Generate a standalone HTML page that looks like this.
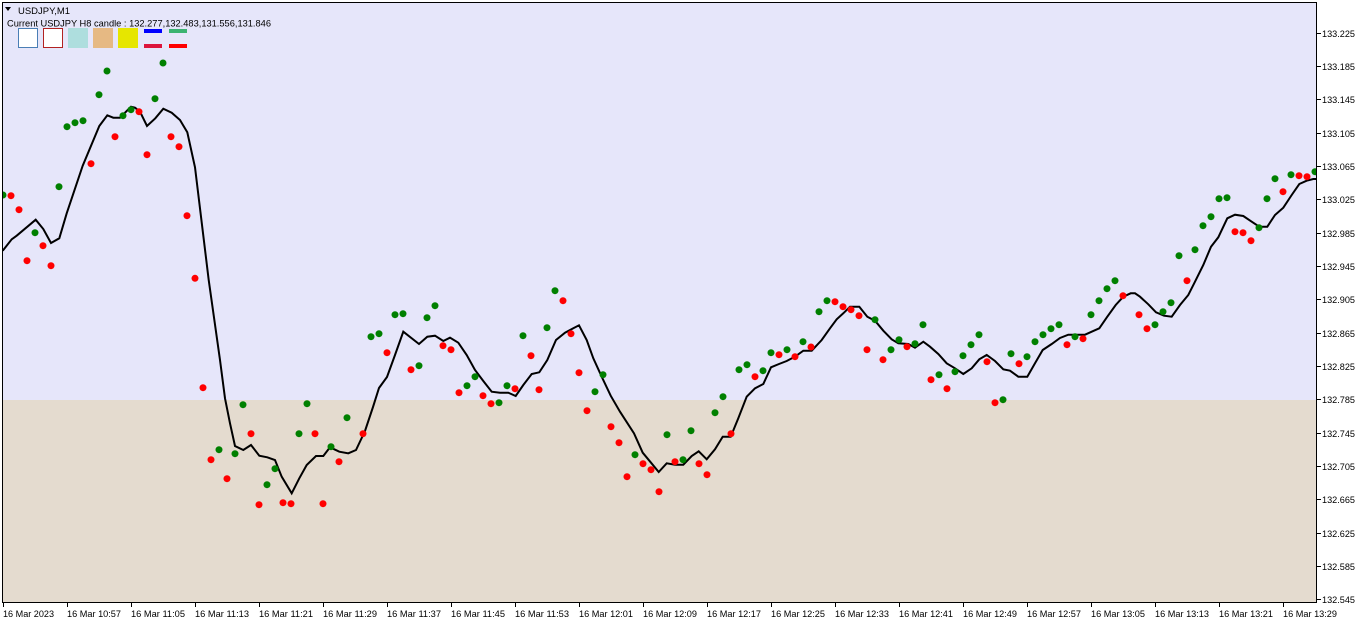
<!DOCTYPE html>
<html><head><meta charset="utf-8"><style>
html,body{margin:0;padding:0;background:#fff;}
svg{display:block;}
text{font-family:"Liberation Sans",sans-serif;fill:#000;}
</style></head><body>
<svg width="1362" height="624" viewBox="0 0 1362 624" xmlns="http://www.w3.org/2000/svg">
<rect x="0" y="0" width="1362" height="624" fill="#fff"/>
<defs><clipPath id="pc"><rect x="3" y="3" width="1313" height="599"/></clipPath></defs>
<rect x="2" y="2" width="1314" height="398" fill="#e6e6fa"/>
<rect x="2" y="400" width="1314" height="203" fill="#e4dbcf"/>
<g clip-path="url(#pc)">
<polyline fill="none" stroke="#000" stroke-width="2" stroke-linejoin="miter" points="2.7,250.7 11.7,239.3 16.7,235.7 35.7,219.7 43.3,229 51,243 59.3,238.3 66.7,213.3 82.7,165.7 99.3,126 107.3,115.3 113.3,117.7 120,117.7 131,106.7 135,107.7 140,111.7 147,126 155.3,118.3 163.3,108.7 171.7,112.7 180,120 187.3,132.3 195,167.3 208.7,280 220,360 225,398.3 230,423.3 235,446 243.3,450 251,445 259.3,455.7 267.3,457.3 275,460 281.7,476.7 291.7,493.3 299.3,478.3 306.7,465 316,456 323.3,456 330,447.3 339.3,451.7 348.3,453.3 356,450 365,431 373,407 379,388 387,377 395,355 403.3,331.7 419,344 427.3,336.7 435,335.7 443.3,341 450,337.7 458.3,342.7 466.7,355 475,370 483.3,381 491.7,391.7 500,392.7 508.3,392.7 515.7,396 523.3,385 531.7,374 539.3,372.3 547.3,360 556,340 565,332.7 573.3,328.3 579,325.3 586.7,340 593.3,358.3 601.7,376.7 610.7,395.7 620,411.7 634,433.3 642.7,452.7 650.7,462.3 658.7,472 666.7,463.3 675,464.7 683.3,464.7 691.7,456 698.7,451.3 706.7,459.3 715,449.3 722.7,436.7 730.7,436.7 738.3,418.3 746.7,396.7 755,388.3 763.3,384 771,367.3 779,364 786.7,361 795,356.7 803.3,350.7 811.7,350.7 821.7,340 830,328.3 836.7,319.3 843.3,313.3 850,306.7 859.3,306.7 867.3,316.7 875,320.7 883.3,330.7 891.7,339.3 898.3,343.3 908.3,344 915,347.7 923.3,341.7 930,346.7 938.3,354 946.7,363.3 955,368.3 963.3,374 971.7,368.3 979.3,359.3 986.7,355 995,361 1003.3,369.3 1010,370.7 1018.3,376.7 1027.3,376.7 1035,363.3 1042.7,350 1051.7,344 1060,338 1068.3,334.7 1085,334.7 1091.7,331.7 1099.3,328.3 1107.3,316.7 1115.7,305 1123.3,296.7 1130.7,293.3 1135,293.3 1140,296.7 1148.3,304.3 1156,312.3 1164,315.7 1171.7,316.7 1180,305 1188.3,295 1195,281.7 1203.3,265 1211,246.7 1218.3,237.3 1227.3,218.3 1235,214.7 1243.3,216 1251.7,221.7 1259.3,226.7 1267.3,226.7 1275,215 1283.3,207.7 1291.7,195 1299.3,184 1306.7,180.7 1313.3,179 1316,179"/>
<g fill="#008000">
<circle cx="3" cy="195" r="3.5"/><circle cx="35" cy="232.7" r="3.5"/><circle cx="59" cy="186.7" r="3.5"/><circle cx="67" cy="126.7" r="3.5"/><circle cx="75" cy="122.7" r="3.5"/><circle cx="83" cy="120.7" r="3.5"/><circle cx="99" cy="94.7" r="3.5"/><circle cx="107" cy="71" r="3.5"/><circle cx="123" cy="115.7" r="3.5"/><circle cx="131" cy="109.7" r="3.5"/><circle cx="155" cy="98.7" r="3.5"/><circle cx="163" cy="63" r="3.5"/>
<circle cx="219" cy="449.7" r="3.5"/><circle cx="235" cy="453.7" r="3.5"/><circle cx="243" cy="404.7" r="3.5"/><circle cx="267" cy="484.7" r="3.5"/><circle cx="275" cy="468.7" r="3.5"/><circle cx="299" cy="433.7" r="3.5"/><circle cx="307" cy="403.7" r="3.5"/><circle cx="331" cy="446.7" r="3.5"/><circle cx="347" cy="417.7" r="3.5"/>
<circle cx="371" cy="336.7" r="3.5"/><circle cx="379" cy="333.7" r="3.5"/><circle cx="395" cy="314.7" r="3.5"/><circle cx="403" cy="313.7" r="3.5"/><circle cx="419" cy="365.7" r="3.5"/><circle cx="427" cy="317.7" r="3.5"/><circle cx="435" cy="305.7" r="3.5"/><circle cx="467" cy="385.7" r="3.5"/><circle cx="475" cy="376.7" r="3.5"/><circle cx="499" cy="402.7" r="3.5"/><circle cx="507" cy="385.7" r="3.5"/><circle cx="523" cy="335.7" r="3.5"/><circle cx="547" cy="327.7" r="3.5"/><circle cx="555" cy="290.7" r="3.5"/>
<circle cx="595" cy="391.7" r="3.5"/><circle cx="603" cy="374.7" r="3.5"/><circle cx="635" cy="454.7" r="3.5"/><circle cx="667" cy="434.7" r="3.5"/><circle cx="683" cy="459.7" r="3.5"/><circle cx="691" cy="430.7" r="3.5"/><circle cx="715" cy="412.7" r="3.5"/><circle cx="723" cy="396.7" r="3.5"/><circle cx="739" cy="369.7" r="3.5"/><circle cx="747" cy="364.7" r="3.5"/><circle cx="763" cy="370.7" r="3.5"/><circle cx="771" cy="352.7" r="3.5"/><circle cx="787" cy="349.7" r="3.5"/>
<circle cx="803" cy="341.7" r="3.5"/><circle cx="819" cy="311.7" r="3.5"/><circle cx="827" cy="300.7" r="3.5"/><circle cx="875" cy="319.7" r="3.5"/><circle cx="891" cy="349.7" r="3.5"/><circle cx="899" cy="339.7" r="3.5"/><circle cx="915" cy="343.7" r="3.5"/><circle cx="923" cy="324.7" r="3.5"/><circle cx="939" cy="374.7" r="3.5"/><circle cx="955" cy="371.7" r="3.5"/><circle cx="963" cy="355.7" r="3.5"/><circle cx="971" cy="344.7" r="3.5"/><circle cx="979" cy="334.7" r="3.5"/><circle cx="1003" cy="399.7" r="3.5"/><circle cx="1011" cy="353.7" r="3.5"/><circle cx="1027" cy="356.7" r="3.5"/>
<circle cx="1035" cy="341.7" r="3.5"/><circle cx="1043" cy="334.7" r="3.5"/><circle cx="1051" cy="328.7" r="3.5"/><circle cx="1059" cy="324.7" r="3.5"/><circle cx="1075" cy="336.7" r="3.5"/><circle cx="1091" cy="314.7" r="3.5"/><circle cx="1099" cy="300.7" r="3.5"/><circle cx="1107" cy="288.7" r="3.5"/><circle cx="1115" cy="280.7" r="3.5"/><circle cx="1155" cy="324.7" r="3.5"/><circle cx="1163" cy="311.7" r="3.5"/><circle cx="1171" cy="302.7" r="3.5"/><circle cx="1179" cy="255.7" r="3.5"/><circle cx="1195" cy="249.7" r="3.5"/><circle cx="1203" cy="225.7" r="3.5"/><circle cx="1211" cy="216.7" r="3.5"/><circle cx="1219" cy="198.7" r="3.5"/><circle cx="1227" cy="197.7" r="3.5"/><circle cx="1259" cy="227.7" r="3.5"/><circle cx="1267" cy="198.7" r="3.5"/><circle cx="1275" cy="178.7" r="3.5"/><circle cx="1291" cy="174.7" r="3.5"/><circle cx="1315" cy="171.7" r="3.5"/>
</g>
<g fill="#ff0000">
<circle cx="11" cy="195.7" r="3.5"/><circle cx="19" cy="209.7" r="3.5"/><circle cx="27" cy="260.7" r="3.5"/><circle cx="43" cy="245.7" r="3.5"/><circle cx="51" cy="265.7" r="3.5"/><circle cx="91" cy="163.7" r="3.5"/><circle cx="115" cy="136.7" r="3.5"/><circle cx="139" cy="111.7" r="3.5"/><circle cx="147" cy="154.7" r="3.5"/><circle cx="171" cy="136.7" r="3.5"/><circle cx="179" cy="146.7" r="3.5"/><circle cx="187" cy="215.7" r="3.5"/><circle cx="195" cy="278.3" r="3.5"/><circle cx="203" cy="387.7" r="3.5"/>
<circle cx="211" cy="459.7" r="3.5"/><circle cx="227" cy="478.7" r="3.5"/><circle cx="251" cy="433.7" r="3.5"/><circle cx="259" cy="504.7" r="3.5"/><circle cx="283" cy="502.7" r="3.5"/><circle cx="291" cy="503.7" r="3.5"/><circle cx="315" cy="433.7" r="3.5"/><circle cx="323" cy="503.7" r="3.5"/><circle cx="339" cy="461.7" r="3.5"/><circle cx="363" cy="433.7" r="3.5"/>
<circle cx="387" cy="352.7" r="3.5"/><circle cx="411" cy="369.7" r="3.5"/><circle cx="443" cy="345.7" r="3.5"/><circle cx="451" cy="349.7" r="3.5"/><circle cx="459" cy="392.7" r="3.5"/><circle cx="483" cy="395.7" r="3.5"/><circle cx="491" cy="403.7" r="3.5"/><circle cx="515" cy="388.7" r="3.5"/><circle cx="531" cy="355.7" r="3.5"/><circle cx="539" cy="389.7" r="3.5"/><circle cx="563" cy="300.7" r="3.5"/><circle cx="571" cy="333.7" r="3.5"/><circle cx="579" cy="372.7" r="3.5"/>
<circle cx="587" cy="410.7" r="3.5"/><circle cx="611" cy="426.7" r="3.5"/><circle cx="619" cy="442.7" r="3.5"/><circle cx="627" cy="476.7" r="3.5"/><circle cx="643" cy="463.7" r="3.5"/><circle cx="651" cy="469.7" r="3.5"/><circle cx="659" cy="491.7" r="3.5"/><circle cx="675" cy="461.7" r="3.5"/><circle cx="699" cy="463.7" r="3.5"/><circle cx="707" cy="474.7" r="3.5"/><circle cx="731" cy="433.7" r="3.5"/><circle cx="755" cy="376.7" r="3.5"/><circle cx="779" cy="354.7" r="3.5"/><circle cx="795" cy="356.7" r="3.5"/>
<circle cx="811" cy="347" r="3.5"/><circle cx="835" cy="301.7" r="3.5"/><circle cx="843" cy="306.7" r="3.5"/><circle cx="851" cy="309.7" r="3.5"/><circle cx="859" cy="315.7" r="3.5"/><circle cx="867" cy="349.7" r="3.5"/><circle cx="883" cy="359.7" r="3.5"/><circle cx="907" cy="346.7" r="3.5"/><circle cx="931" cy="379.7" r="3.5"/><circle cx="947" cy="388.7" r="3.5"/><circle cx="987" cy="361.7" r="3.5"/><circle cx="995" cy="402.7" r="3.5"/><circle cx="1019" cy="363.7" r="3.5"/>
<circle cx="1067" cy="344.7" r="3.5"/><circle cx="1083" cy="338.7" r="3.5"/><circle cx="1123" cy="295.7" r="3.5"/><circle cx="1139" cy="314.7" r="3.5"/><circle cx="1147" cy="328.7" r="3.5"/><circle cx="1187" cy="280.7" r="3.5"/><circle cx="1235" cy="231.7" r="3.5"/><circle cx="1243" cy="232.7" r="3.5"/><circle cx="1251" cy="240.7" r="3.5"/><circle cx="1283" cy="191.7" r="3.5"/><circle cx="1299" cy="175.7" r="3.5"/><circle cx="1307" cy="176.7" r="3.5"/>
</g>
</g>
<rect x="2.5" y="2.5" width="1314" height="600" fill="none" stroke="#000" stroke-width="1"/>
<!-- legend -->
<polygon points="5,7 11,7 8,11" fill="#000"/>
<text x="18" y="14" font-size="9.5" textLength="52" lengthAdjust="spacingAndGlyphs">USDJPY,M1</text>
<text x="7" y="26.5" font-size="9.5" textLength="264" lengthAdjust="spacingAndGlyphs">Current USDJPY H8 candle : 132.277,132.483,131.556,131.846</text>
<rect x="18.5" y="28.5" width="19" height="19" fill="#fff" stroke="#4a7eb5"/>
<rect x="43.5" y="28.5" width="19" height="19" fill="#fff" stroke="#b22222"/>
<rect x="68" y="28" width="20" height="20" fill="#aedede"/>
<rect x="93" y="28" width="20" height="20" fill="#e6b983"/>
<rect x="118" y="28" width="20" height="20" fill="#e6e600"/>
<rect x="144" y="29" width="18" height="4" fill="#0000ff"/>
<rect x="169" y="29" width="18" height="4" fill="#3cb371"/>
<rect x="144" y="44" width="18" height="4" fill="#dc143c"/>
<rect x="169" y="44" width="18" height="4" fill="#ff0000"/>
<!-- right axis -->
<g stroke="#000" stroke-width="1">
<line x1="1317" y1="33.5" x2="1321" y2="33.5"/><line x1="1317" y1="66.5" x2="1321" y2="66.5"/><line x1="1317" y1="99.5" x2="1321" y2="99.5"/><line x1="1317" y1="133.5" x2="1321" y2="133.5"/><line x1="1317" y1="166.5" x2="1321" y2="166.5"/><line x1="1317" y1="199.5" x2="1321" y2="199.5"/><line x1="1317" y1="233.5" x2="1321" y2="233.5"/><line x1="1317" y1="266.5" x2="1321" y2="266.5"/><line x1="1317" y1="299.5" x2="1321" y2="299.5"/><line x1="1317" y1="333.5" x2="1321" y2="333.5"/><line x1="1317" y1="366.5" x2="1321" y2="366.5"/><line x1="1317" y1="399.5" x2="1321" y2="399.5"/><line x1="1317" y1="433.5" x2="1321" y2="433.5"/><line x1="1317" y1="466.5" x2="1321" y2="466.5"/><line x1="1317" y1="499.5" x2="1321" y2="499.5"/><line x1="1317" y1="533.5" x2="1321" y2="533.5"/><line x1="1317" y1="566.5" x2="1321" y2="566.5"/><line x1="1317" y1="599.5" x2="1321" y2="599.5"/>
</g>
<g font-size="9.5">
<text x="1322" y="37" textLength="33" lengthAdjust="spacingAndGlyphs">133.225</text>
<text x="1322" y="70" textLength="33" lengthAdjust="spacingAndGlyphs">133.185</text>
<text x="1322" y="103" textLength="33" lengthAdjust="spacingAndGlyphs">133.145</text>
<text x="1322" y="137" textLength="33" lengthAdjust="spacingAndGlyphs">133.105</text>
<text x="1322" y="170" textLength="33" lengthAdjust="spacingAndGlyphs">133.065</text>
<text x="1322" y="203" textLength="33" lengthAdjust="spacingAndGlyphs">133.025</text>
<text x="1322" y="237" textLength="33" lengthAdjust="spacingAndGlyphs">132.985</text>
<text x="1322" y="270" textLength="33" lengthAdjust="spacingAndGlyphs">132.945</text>
<text x="1322" y="303" textLength="33" lengthAdjust="spacingAndGlyphs">132.905</text>
<text x="1322" y="337" textLength="33" lengthAdjust="spacingAndGlyphs">132.865</text>
<text x="1322" y="370" textLength="33" lengthAdjust="spacingAndGlyphs">132.825</text>
<text x="1322" y="403" textLength="33" lengthAdjust="spacingAndGlyphs">132.785</text>
<text x="1322" y="437" textLength="33" lengthAdjust="spacingAndGlyphs">132.745</text>
<text x="1322" y="470" textLength="33" lengthAdjust="spacingAndGlyphs">132.705</text>
<text x="1322" y="503" textLength="33" lengthAdjust="spacingAndGlyphs">132.665</text>
<text x="1322" y="537" textLength="33" lengthAdjust="spacingAndGlyphs">132.625</text>
<text x="1322" y="570" textLength="33" lengthAdjust="spacingAndGlyphs">132.585</text>
<text x="1322" y="603" textLength="33" lengthAdjust="spacingAndGlyphs">132.545</text>
</g>
<!-- bottom axis -->
<g stroke="#000" stroke-width="1">
<line x1="3.5" y1="603" x2="3.5" y2="607"/><line x1="67.5" y1="603" x2="67.5" y2="607"/><line x1="131.5" y1="603" x2="131.5" y2="607"/><line x1="195.5" y1="603" x2="195.5" y2="607"/><line x1="259.5" y1="603" x2="259.5" y2="607"/><line x1="323.5" y1="603" x2="323.5" y2="607"/><line x1="387.5" y1="603" x2="387.5" y2="607"/><line x1="451.5" y1="603" x2="451.5" y2="607"/><line x1="515.5" y1="603" x2="515.5" y2="607"/><line x1="579.5" y1="603" x2="579.5" y2="607"/><line x1="643.5" y1="603" x2="643.5" y2="607"/><line x1="707.5" y1="603" x2="707.5" y2="607"/><line x1="771.5" y1="603" x2="771.5" y2="607"/><line x1="835.5" y1="603" x2="835.5" y2="607"/><line x1="899.5" y1="603" x2="899.5" y2="607"/><line x1="963.5" y1="603" x2="963.5" y2="607"/><line x1="1027.5" y1="603" x2="1027.5" y2="607"/><line x1="1091.5" y1="603" x2="1091.5" y2="607"/><line x1="1155.5" y1="603" x2="1155.5" y2="607"/><line x1="1219.5" y1="603" x2="1219.5" y2="607"/><line x1="1283.5" y1="603" x2="1283.5" y2="607"/>
</g>
<g font-size="9.5">
<text x="3" y="617" textLength="51" lengthAdjust="spacingAndGlyphs">16 Mar 2023</text>
<text x="67" y="617" textLength="54" lengthAdjust="spacingAndGlyphs">16 Mar 10:57</text>
<text x="131" y="617" textLength="54" lengthAdjust="spacingAndGlyphs">16 Mar 11:05</text>
<text x="195" y="617" textLength="54" lengthAdjust="spacingAndGlyphs">16 Mar 11:13</text>
<text x="259" y="617" textLength="54" lengthAdjust="spacingAndGlyphs">16 Mar 11:21</text>
<text x="323" y="617" textLength="54" lengthAdjust="spacingAndGlyphs">16 Mar 11:29</text>
<text x="387" y="617" textLength="54" lengthAdjust="spacingAndGlyphs">16 Mar 11:37</text>
<text x="451" y="617" textLength="54" lengthAdjust="spacingAndGlyphs">16 Mar 11:45</text>
<text x="515" y="617" textLength="54" lengthAdjust="spacingAndGlyphs">16 Mar 11:53</text>
<text x="579" y="617" textLength="54" lengthAdjust="spacingAndGlyphs">16 Mar 12:01</text>
<text x="643" y="617" textLength="54" lengthAdjust="spacingAndGlyphs">16 Mar 12:09</text>
<text x="707" y="617" textLength="54" lengthAdjust="spacingAndGlyphs">16 Mar 12:17</text>
<text x="771" y="617" textLength="54" lengthAdjust="spacingAndGlyphs">16 Mar 12:25</text>
<text x="835" y="617" textLength="54" lengthAdjust="spacingAndGlyphs">16 Mar 12:33</text>
<text x="899" y="617" textLength="54" lengthAdjust="spacingAndGlyphs">16 Mar 12:41</text>
<text x="963" y="617" textLength="54" lengthAdjust="spacingAndGlyphs">16 Mar 12:49</text>
<text x="1027" y="617" textLength="54" lengthAdjust="spacingAndGlyphs">16 Mar 12:57</text>
<text x="1091" y="617" textLength="54" lengthAdjust="spacingAndGlyphs">16 Mar 13:05</text>
<text x="1155" y="617" textLength="54" lengthAdjust="spacingAndGlyphs">16 Mar 13:13</text>
<text x="1219" y="617" textLength="54" lengthAdjust="spacingAndGlyphs">16 Mar 13:21</text>
<text x="1283" y="617" textLength="54" lengthAdjust="spacingAndGlyphs">16 Mar 13:29</text>
</g>
</svg>
</body></html>
